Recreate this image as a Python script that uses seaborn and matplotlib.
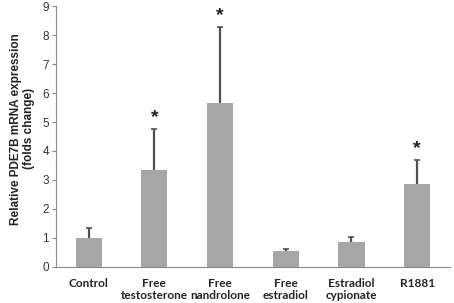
import matplotlib
matplotlib.use("Agg")
import matplotlib.pyplot as plt
import seaborn as sns
import numpy as np
import pandas as pd

categories = ["Control", "Free\ntestosterone", "Free\nnandrolone", "Free\nestradiol", "Estradiol\ncypionate", "R1881"]
values = [1.0, 3.35, 5.65, 0.55, 0.87, 2.85]
errors = [0.33, 1.42, 2.62, 0.07, 0.18, 0.83]
significant = [False, True, True, False, False, True]
yticks = list(range(0, 10))

sns.set_theme(style="white")
plt.rcParams['font.family'] = ['Liberation Sans', 'DejaVu Sans']

fig = plt.figure(figsize=(4.54, 3.03), dpi=100)
ax = fig.add_axes([0.123, 0.119, 0.868, 0.861])

df = pd.DataFrame({"cat": categories, "val": values})
sns.barplot(data=df, x="cat", y="val", color="#a6a6a6", saturation=1, width=0.4, ax=ax, errorbar=None)
for p in ax.patches:
    p.set_edgecolor("none")

x = np.arange(len(categories))
eb = ax.errorbar(x, values, yerr=[np.zeros(len(values)), errors], fmt="none",
                 ecolor="#505050", elinewidth=1.6, capsize=2.5, capthick=1.2)
eb[1][0].set_visible(False)

for xi, v, e, s in zip(x, values, errors, significant):
    if s:
        ax.text(xi, v + e + 0.1, "*", ha="center", va="bottom", fontsize=14,
                fontweight="bold", color="#222222")

ax.set_xlim(-0.5, len(categories) - 0.5)
ax.set_ylim(0, 9)
ax.set_yticks(yticks)
ax.tick_params(axis="y", labelsize=8.5, length=3, width=0.8, color="#888888", left=True, pad=2,
               labelcolor="#333333")
ax.tick_params(axis="x", length=0, pad=8)
ax.set_xticks(x)
ax.set_xticklabels(categories, fontsize=8.5, fontweight="bold", family=["Lato", "DejaVu Sans"],
                   linespacing=1.15, color="#222222")
ax.set_xlabel("")
ax.set_ylabel("Relative PDE7B mRNA expression\n(folds change)", fontsize=8.5, fontweight="bold",
              color="#222222")
ax.yaxis.set_label_coords(-0.052, 0.53)
for side in ["top", "right"]:
    ax.spines[side].set_visible(False)
for side in ["left", "bottom"]:
    ax.spines[side].set_color("#888888")
    ax.spines[side].set_linewidth(0.8)

fig.savefig("out.png", dpi=100)
